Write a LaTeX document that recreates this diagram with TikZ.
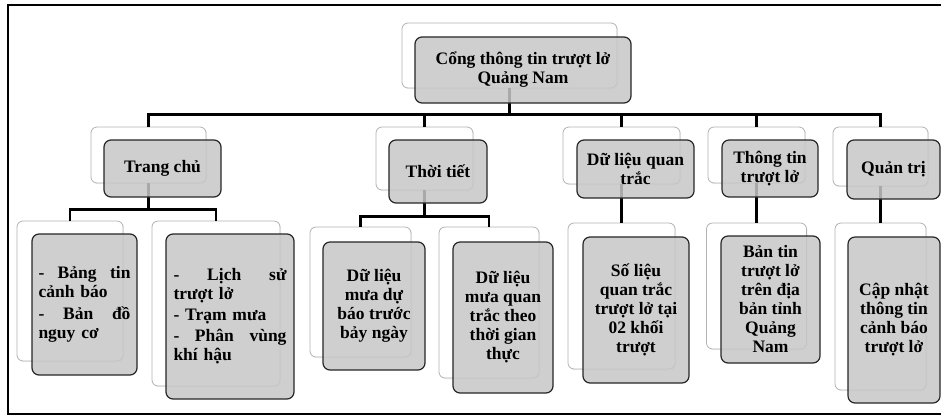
\documentclass[tikz,border=0pt]{standalone}
\usepackage{fontspec}
\setmainfont{Liberation Serif}
\usetikzlibrary{shadows}

\begin{document}
\begin{tikzpicture}[x=1pt,y=-1pt,
        backbox/.style={draw=black!30, line width=0.8pt, fill=white, rounded corners=6pt, inner sep=0pt,
            drop shadow={shadow xshift=1.2pt, shadow yshift=-1.2pt, opacity=0.12}},
        frontbox/.style={draw=black!85, line width=1.2pt, fill=black!22, fill opacity=0.85, text opacity=1,
            rounded corners=7pt, inner sep=0pt, align=center, font=\bfseries\fontsize{17.5}{19}\selectfont},
        link/.style={line width=2.6pt, black}]

        	\useasboundingbox (0,0) rectangle (941,416);
        	\draw[line width=2pt] (8,5) rectangle (945,414);

        	% back boxes
        	\node[backbox, minimum width=215pt, minimum height=65pt] (portal-b) at (509.5, 55.5) {};
        	\node[backbox, minimum width=115pt, minimum height=56pt] (home-b) at (148.5, 155) {};
        	\node[backbox, minimum width=97pt, minimum height=63pt] (weather-b) at (424.5, 158.5) {};
        	\node[backbox, minimum width=117pt, minimum height=57pt] (obs-b) at (621.5, 155.5) {};
        	\node[backbox, minimum width=97pt, minimum height=56pt] (info-b) at (756.5, 155) {};
        	\node[backbox, minimum width=95pt, minimum height=59pt] (admin-b) at (880.5, 156.5) {};
        	\node[backbox, minimum width=106pt, minimum height=140pt] (home1-b) at (70, 291) {};
        	\node[backbox, minimum width=128pt, minimum height=165pt] (home2-b) at (216, 303.5) {};
        	\node[backbox, minimum width=101pt, minimum height=130pt] (weather1-b) at (360.5, 292) {};
        	\node[backbox, minimum width=100pt, minimum height=151pt] (weather2-b) at (489, 302.5) {};
        	\node[backbox, minimum width=107pt, minimum height=146pt] (obs1-b) at (621.5, 296) {};
        	\node[backbox, minimum width=100pt, minimum height=126pt] (info1-b) at (756.5, 286) {};
        	\node[backbox, minimum width=91pt, minimum height=167pt] (admin1-b) at (880.5, 306.5) {};

        	% connectors
        	\draw[link] (portal-b.south) -- ++(0,26) -| (home-b.north);
        	\draw[link] (portal-b.south) -- ++(0,26) -| (weather-b.north);
        	\draw[link] (portal-b.south) -- ++(0,26) -| (obs-b.north);
        	\draw[link] (portal-b.south) -- ++(0,26) -| (info-b.north);
        	\draw[link] (portal-b.south) -- ++(0,26) -| (admin-b.north);
        	\draw[link] (home-b.south) -- ++(0,26) -| (home1-b.north);
        	\draw[link] (home-b.south) -- ++(0,26) -| (home2-b.north);
        	\draw[link] (weather-b.south) -- ++(0,26) -| (weather1-b.north);
        	\draw[link] (weather-b.south) -- ++(0,26) -| (weather2-b.north);
        	\draw[link] (obs-b.south) -- (obs1-b.north);
        	\draw[link] (info-b.south) -- (info1-b.north);
        	\draw[link] (admin-b.south) -- (admin1-b.north);

        	% front boxes
        	\node[frontbox, minimum width=216pt, minimum height=66pt] (portal) at (523, 70) {Cổng thông tin trượt lở\\Quảng Nam};
        	\node[frontbox, minimum width=117pt, minimum height=57pt] (home) at (162.5, 168.5) {Trang chủ};
        	\node[frontbox, minimum width=98pt, minimum height=63pt] (weather) at (438, 171.5) {Thời tiết};
        	\node[frontbox, minimum width=117pt, minimum height=58pt] (obs) at (635.5, 169) {Dữ liệu quan\\trắc};
        	\node[frontbox, minimum width=96pt, minimum height=57pt] (info) at (770, 168.5) {Thông tin\\trượt lở};
        	\node[frontbox, minimum width=93pt, minimum height=59pt] (admin) at (893.5, 169.5) {Quản trị};
        	\node[frontbox, minimum width=105pt, minimum height=141pt, text width=92pt, align=left] (home1) at (84.5, 304.5)
        	    {\makebox[92pt][s]{-\hfil Bảng\hfil tin}\\cảnh báo\\[3pt]\makebox[92pt][s]{-\hfil Bản\hfil đồ}\\nguy cơ};
        	\node[frontbox, minimum width=128pt, minimum height=165pt, text width=113pt, align=left] (home2) at (230, 316.5)
        	    {\makebox[113pt][s]{-\hfil Lịch\hfil sử}\\trượt lở\\[2pt]- Trạm mưa\\[2pt]\makebox[113pt][s]{-\hfil Phân\hfil vùng}\\khí hậu};
        	\node[frontbox, minimum width=102pt, minimum height=128pt] (weather1) at (374, 306) {Dữ liệu\\mưa dự\\báo trước\\bảy ngày};
        	\node[frontbox, minimum width=100pt, minimum height=151pt] (weather2) at (503, 317.5) {Dữ liệu\\mưa quan\\trắc theo\\thời gian\\thực};
        	\node[frontbox, minimum width=106pt, minimum height=146pt] (obs1) at (636, 310) {Số liệu\\quan trắc\\trượt lở tại\\02 khối\\trượt};
        	\node[frontbox, minimum width=99pt, minimum height=127pt] (info1) at (770.5, 299.5) {Bản tin\\trượt lở\\trên địa\\bản tỉnh\\Quảng\\Nam};
        	\node[frontbox, minimum width=92pt, minimum height=166pt] (admin1) at (894, 320) {Cập nhật\\thông tin\\cảnh báo\\trượt lở};

\end{tikzpicture}
\end{document}
